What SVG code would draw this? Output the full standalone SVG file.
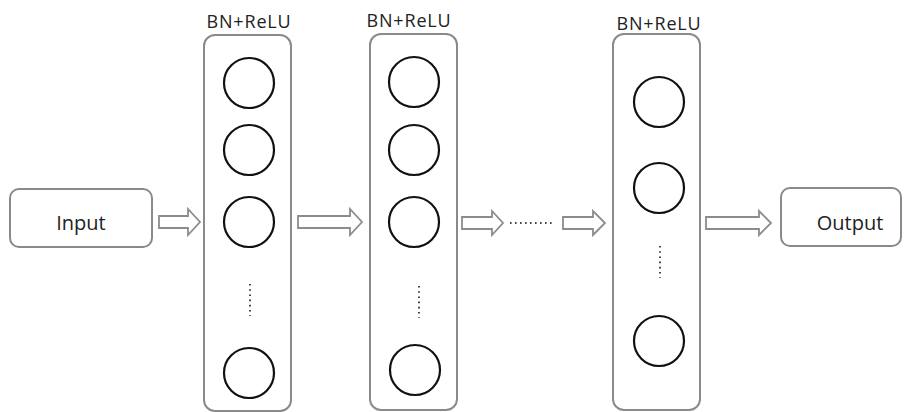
<svg xmlns="http://www.w3.org/2000/svg" width="913" height="412" viewBox="0 0 913 412">
<style>
.box{fill:#fff;stroke:#8a8a8a;stroke-width:2}
.neuron{fill:none;stroke:#111;stroke-width:2.2}
.arrow{fill:#fff;stroke:#8c8c8c;stroke-width:1.8;stroke-linejoin:miter}
.dots{stroke:#444;stroke-width:2;stroke-dasharray:1.6 3.6}
.lbl{font-family:"Open Sans","Liberation Sans",sans-serif;font-size:20px;fill:#222;text-anchor:middle}
.top{font-family:"Open Sans","Liberation Sans",sans-serif;font-size:18px;fill:#222;text-anchor:middle;letter-spacing:0.8px}
</style>
<rect width="913" height="412" fill="#fff"/>
<g id="input">
<rect class="box" x="10" y="189" width="142" height="58" rx="9"/>
<text class="lbl" x="81" y="230">Input</text>
</g>
<g id="layer1">
<text class="top" x="249" y="28">BN+ReLU</text>
<rect class="box" x="204" y="35" width="87" height="376" rx="11"/>
<circle class="neuron" cx="249" cy="83" r="25"/>
<circle class="neuron" cx="249" cy="150" r="25"/>
<circle class="neuron" cx="249" cy="222" r="25"/>
<line class="dots" x1="250" y1="284" x2="250" y2="316"/>
<circle class="neuron" cx="249" cy="373" r="25"/>
</g>
<g id="layer2">
<text class="top" x="409" y="27">BN+ReLU</text>
<rect class="box" x="370" y="34" width="87" height="376" rx="11"/>
<circle class="neuron" cx="414" cy="82" r="25"/>
<circle class="neuron" cx="414" cy="150" r="25"/>
<circle class="neuron" cx="414" cy="222" r="25"/>
<line class="dots" x1="419" y1="286" x2="419" y2="318"/>
<circle class="neuron" cx="415" cy="370" r="25"/>
</g>
<g id="layer3">
<text class="top" x="659" y="30">BN+ReLU</text>
<rect class="box" x="613" y="34" width="87" height="376" rx="11"/>
<circle class="neuron" cx="659" cy="102" r="25"/>
<circle class="neuron" cx="659" cy="188" r="25"/>
<line class="dots" x1="660" y1="246" x2="660" y2="278"/>
<circle class="neuron" cx="659" cy="341" r="25"/>
</g>
<g id="output">
<rect class="box" x="781" y="188" width="120" height="58" rx="9"/>
<text class="lbl" x="850" y="230">Output</text>
</g>
<g id="connectors">
<polygon class="arrow" points="159,216 188,216 188,209 200,222 188,235 188,228 159,228"/>
<polygon class="arrow" points="298,216 350,216 350,209 362,222 350,235 350,228 298,228"/>
<polygon class="arrow" points="462,217 492,217 492,211 503,223 492,235 492,229 462,229"/>
<line class="dots" x1="510" y1="223" x2="555" y2="223" style="stroke-dasharray:1.6 3.4;stroke-width:1.8"/>
<polygon class="arrow" points="563,217 593,217 593,211 605,223 593,235 593,229 563,229"/>
<polygon class="arrow" points="706,217 759,217 759,211 771,223 759,235 759,229 706,229"/>
</g>
</svg>
